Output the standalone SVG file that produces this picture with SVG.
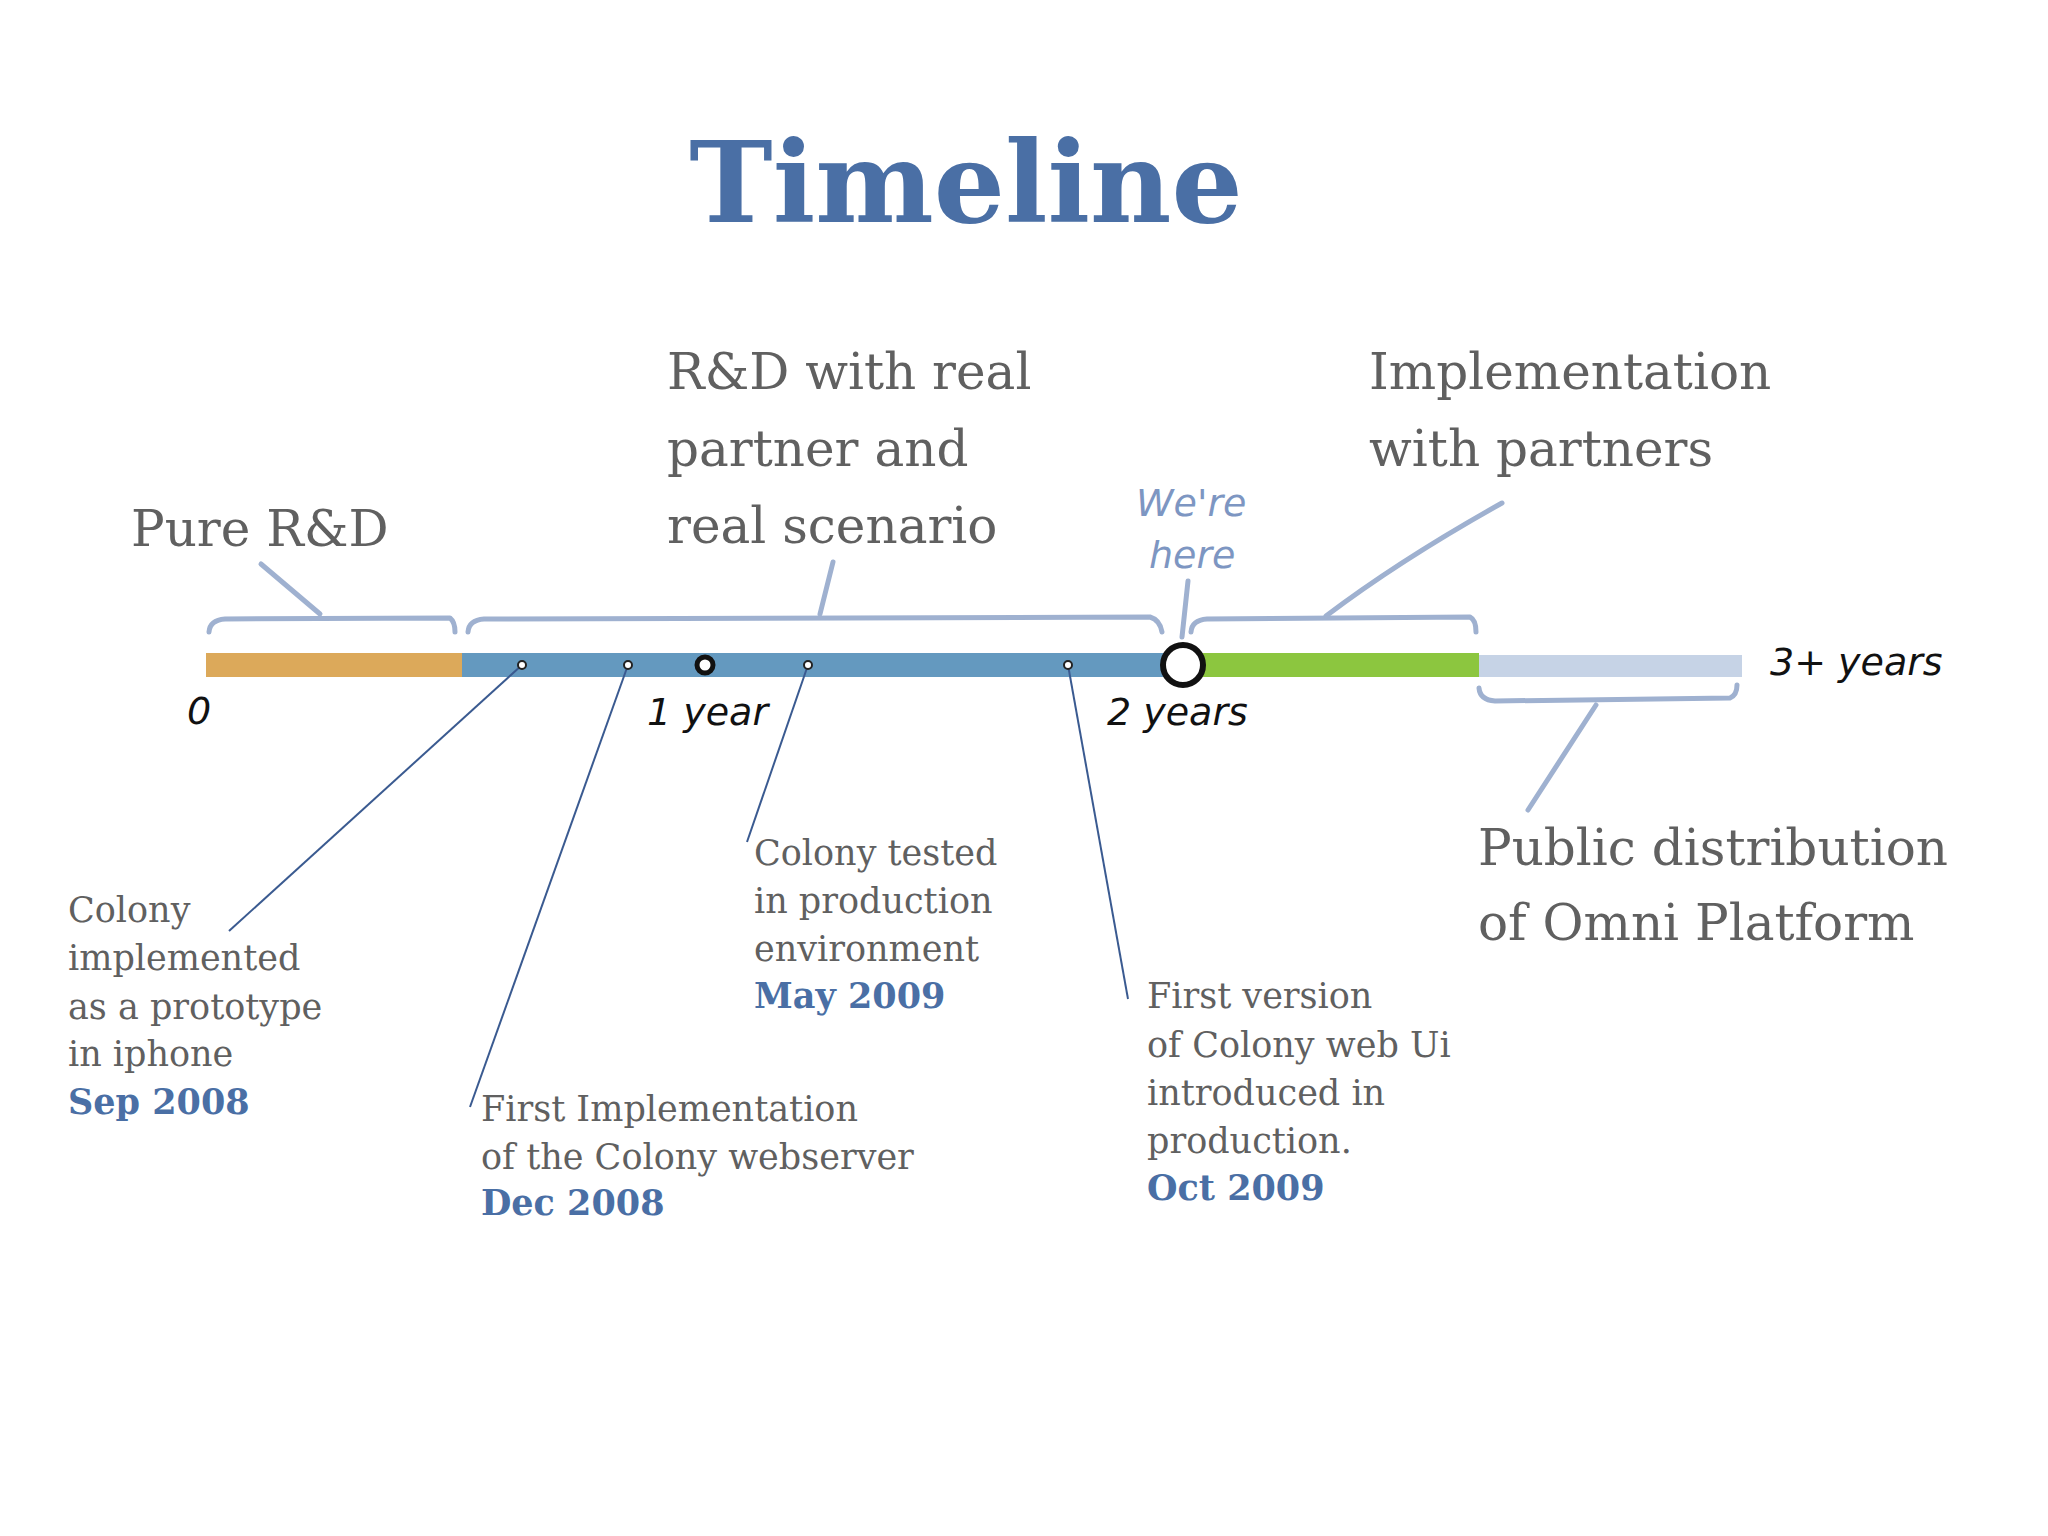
<svg xmlns="http://www.w3.org/2000/svg" width="2048" height="1536" viewBox="0 0 2048 1536">
<style>
.grp{font-family:"DejaVu Serif",serif;font-size:50px;fill:#606060}
.ev{font-family:"DejaVu Serif",serif;font-size:35px;fill:#606060}
.dt{font-family:"DejaVu Serif",serif;font-size:35px;font-weight:bold;fill:#4a6fa5}
.hand{font-family:"DejaVu Sans",sans-serif;font-style:italic;font-size:38px;fill:#111}
.brace{fill:none;stroke:#9fb1d0;stroke-width:5;stroke-linecap:round;stroke-linejoin:round}
.lead{fill:none;stroke:#3a5a90;stroke-width:2}
.dot{fill:#fff;stroke:#222;stroke-width:2}
</style>
<rect width="2048" height="1536" fill="#fff"/>
<text id="title" x="966" y="222" text-anchor="middle" font-family="DejaVu Serif,serif" font-weight="bold" font-size="112" fill="#4a6fa5">Timeline</text>
<g id="bar">
<rect x="206" y="653" width="256" height="24" fill="#dca95a"/>
<rect x="462" y="653" width="720" height="24" fill="#6499bf"/>
<rect x="1182" y="653" width="297" height="24" fill="#8cc63f"/>
<rect x="1479" y="655" width="263" height="22" fill="#c6d3e6"/>
</g>
<g id="connectors">
<path class="brace" d="M209 632 Q210 620 225 619 L450 618 Q455 622 455 632"/>
<path class="brace" d="M261 564 L320 614"/>
<path class="brace" d="M468 632 Q469 620 484 619 L1150 617 Q1160 620 1162 632"/>
<path class="brace" d="M833 562 L820 614"/>
<path class="brace" d="M1191 632 Q1192 620 1207 619 L1470 617 Q1476 620 1476 632"/>
<path class="brace" d="M1502 503 Q1400 560 1326 616"/>
<path class="brace" d="M1188 581 L1182 637"/>
<path class="brace" d="M1479 688 Q1480 700 1495 701 L1730 698 Q1737 695 1737 685"/>
<path class="brace" d="M1596 705 L1528 810"/>
<path class="lead" d="M522 665 L229 931"/>
<path class="lead" d="M628 665 L470 1107"/>
<path class="lead" d="M808 665 L747 842"/>
<path class="lead" d="M1068 665 L1128 999"/>
</g>
<g id="markers">
<circle class="dot" cx="522" cy="665" r="4"/>
<circle class="dot" cx="628" cy="665" r="4"/>
<circle class="dot" cx="808" cy="665" r="4"/>
<circle class="dot" cx="1068" cy="665" r="4"/>
<circle cx="705" cy="665" r="8" fill="#fff" stroke="#111" stroke-width="5"/>
<circle cx="1183" cy="665" r="20" fill="#fff" stroke="#111" stroke-width="6"/>
</g>
<g id="axis-labels">
<text class="hand" x="199" y="724" text-anchor="middle">0</text>
<text class="hand" x="647" y="725">1 year</text>
<text class="hand" x="1107" y="725">2 years</text>
<text class="hand" x="1770" y="675">3+ years</text>
<text class="hand" x="1136" y="516" style="fill:#7d96c2">We're</text>
<text class="hand" x="1149" y="568" style="fill:#7d96c2">here</text>
</g>
<g id="phase-pure"><text class="grp" x="131" y="546">Pure R&amp;D</text></g>
<g id="phase-rd"><text class="grp"><tspan x="667" y="389">R&amp;D with real</tspan><tspan x="667" y="466">partner and</tspan><tspan x="667" y="543">real scenario</tspan></text></g>
<g id="phase-impl"><text class="grp"><tspan x="1369" y="389">Implementation</tspan><tspan x="1369" y="466">with partners</tspan></text></g>
<g id="phase-public"><text class="grp"><tspan x="1478" y="865">Public distribution</tspan><tspan x="1478" y="940">of Omni Platform</tspan></text></g>
<g id="event-sep"><text class="ev"><tspan x="68" y="922">Colony</tspan><tspan x="68" y="970">implemented</tspan><tspan x="68" y="1019">as a prototype</tspan><tspan x="68" y="1066">in iphone</tspan></text><text class="dt" x="68" y="1114">Sep 2008</text></g>
<g id="event-dec"><text class="ev"><tspan x="481" y="1121">First Implementation</tspan><tspan x="481" y="1169">of the Colony webserver</tspan></text><text class="dt" x="481" y="1215">Dec 2008</text></g>
<g id="event-may"><text class="ev"><tspan x="754" y="865">Colony tested</tspan><tspan x="754" y="913">in production</tspan><tspan x="754" y="961">environment</tspan></text><text class="dt" x="754" y="1008">May 2009</text></g>
<g id="event-oct"><text class="ev"><tspan x="1147" y="1008">First version</tspan><tspan x="1147" y="1057">of Colony web Ui</tspan><tspan x="1147" y="1105">introduced in</tspan><tspan x="1147" y="1153">production.</tspan></text><text class="dt" x="1147" y="1200">Oct 2009</text></g>
</svg>
